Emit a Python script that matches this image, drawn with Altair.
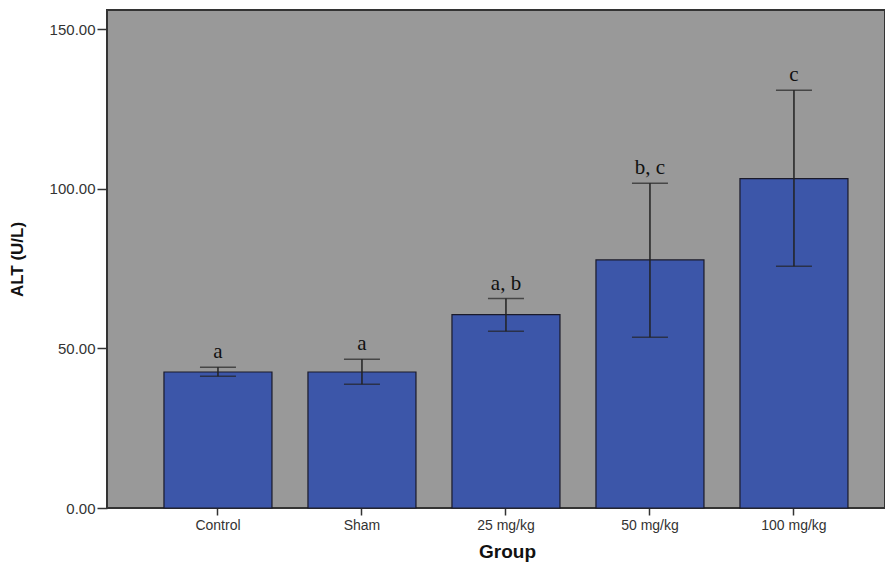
import altair as alt
import pandas as pd

groups = ["Control", "Sham", "25 mg/kg", "50 mg/kg", "100 mg/kg"]
means = [42.6, 42.6, 60.6, 77.7, 103.2]
err_low = [41.25, 38.75, 55.4, 53.5, 75.7]
err_high = [44.06, 46.56, 65.6, 101.7, 130.9]
letters = ["a", "a", "a, b", "b, c", "c"]

df = pd.DataFrame({"Group": groups, "mean": means, "lo": err_low, "hi": err_high, "lab": letters})

xscale = alt.Scale(domain=groups, paddingInner=0.25, paddingOuter=0.3264, align=0.606)
yscale = alt.Scale(domain=[0, 156], nice=False, zero=True)

x = alt.X("Group:N", scale=xscale, sort=groups,
          axis=alt.Axis(title="Group", labelAngle=0, labelFontSize=14, labelColor="#333",
                        labelFont="Liberation Sans", tickSize=7, tickColor="#333",
                        tickWidth=1.5, domain=False, labelPadding=3,
                        titleFont="Liberation Sans", titleFontSize=19, titleFontWeight="bold",
                        titleColor="#111", titlePadding=10, titleX=400))
y = alt.Y("mean:Q", scale=yscale,
          axis=alt.Axis(title="ALT (U/L)", values=[0, 50, 100, 150], format=".2f",
                        labelFontSize=15, labelColor="#333", labelFont="Liberation Sans",
                        tickSize=10, tickColor="#333", tickWidth=1.5, domain=False,
                        grid=False, labelPadding=2,
                        titleFont="Liberation Sans", titleFontSize=17, titleFontWeight="bold",
                        titleColor="#111", titlePadding=23))

bars = alt.Chart(df).mark_bar(color="#3c56a9", stroke="#1a1a2a", strokeWidth=1.2).encode(x=x, y=y)

rules = alt.Chart(df).mark_rule(color="#222", strokeWidth=1.5).encode(
    x=alt.X("Group:N", scale=xscale, sort=groups),
    y=alt.Y("lo:Q", scale=yscale),
    y2="hi:Q")

caps_hi = alt.Chart(df).mark_tick(color="#222", thickness=1.5, size=36).encode(
    x=alt.X("Group:N", scale=xscale, sort=groups),
    y=alt.Y("hi:Q", scale=yscale))
caps_lo = alt.Chart(df).mark_tick(color="#222", thickness=1.5, size=36).encode(
    x=alt.X("Group:N", scale=xscale, sort=groups),
    y=alt.Y("lo:Q", scale=yscale))

labels = alt.Chart(df).mark_text(font="Liberation Serif", fontSize=21, color="#111",
                                 baseline="alphabetic", dy=-9).encode(
    x=alt.X("Group:N", scale=xscale, sort=groups),
    y=alt.Y("hi:Q", scale=yscale),
    text="lab:N")

chart = alt.layer(bars, rules, caps_hi, caps_lo, labels).properties(
    width=778, height=498,
    background="white",
    autosize=alt.AutoSizeParams(type="none"),
    padding={"left": 99, "top": 2, "right": 0, "bottom": 55},
).configure_view(fill="#999999", stroke="#333333", strokeWidth=2)

chart.save("out.html", embed_options={"renderer": "svg", "actions": False})
